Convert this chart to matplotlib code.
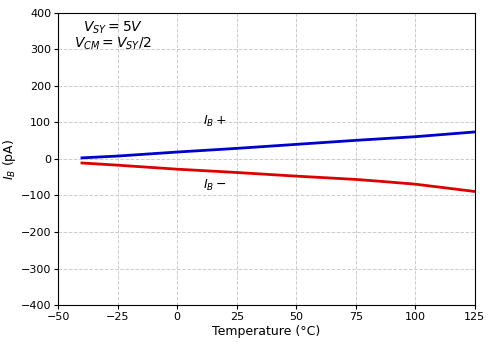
import matplotlib
matplotlib.use("Agg")
import matplotlib.pyplot as plt

# Input bias current vs. temperature
temperature = [-40, -25, 0, 25, 50, 75, 85, 100, 125]
ib_plus = [3, 8, 19, 29, 40, 51, 55, 61, 74]
ib_minus = [-11, -17, -28, -37, -47, -56, -61, -69, -89]

fig, ax = plt.subplots(figsize=(4.93, 3.49), dpi=100)
fig.subplots_adjust(left=0.118, right=0.963, top=0.963, bottom=0.126)

ax.plot(temperature, ib_plus, color="#0000cc", linewidth=2)
ax.plot(temperature, ib_minus, color="#dd0000", linewidth=2)

ax.set_xlim(-50, 125)
ax.set_ylim(-400, 400)
ax.set_xticks([-50, -25, 0, 25, 50, 75, 100, 125])
ax.set_yticks(range(-400, 401, 100))
ax.grid(True, linestyle="--", color="#cccccc", linewidth=0.7)
ax.tick_params(labelsize=8, length=3, pad=2)

ax.set_xlabel("Temperature (°C)", fontsize=9, labelpad=2)
ax.set_ylabel("$I_B$ (pA)", fontsize=9, labelpad=2)

ax.text(-27, 360, "$V_{SY} = 5V$", ha="center", va="center", fontsize=10)
ax.text(-27, 316, "$V_{CM} = V_{SY}/2$", ha="center", va="center", fontsize=10)
ax.text(16, 104, "$I_B+$", ha="center", va="center", fontsize=9)
ax.text(16, -72, "$I_B-$", ha="center", va="center", fontsize=9)

fig.savefig("out.png", dpi=100)
